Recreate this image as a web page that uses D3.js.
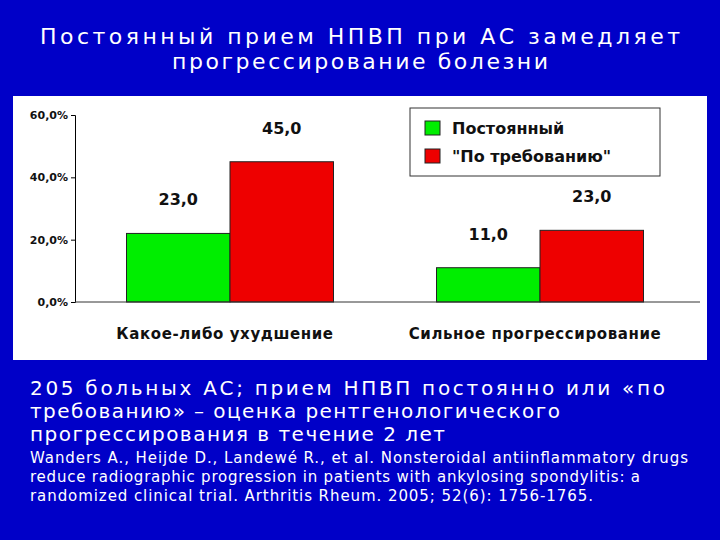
<!DOCTYPE html>
<html><head><meta charset="utf-8">
<script src="https://cdn.jsdelivr.net/npm/d3@7"></script>
<style>body{margin:0;background:#0000c8}svg{display:block}text{font-family:"DejaVu Sans",sans-serif}</style>
</head><body><div id="chart"></div>
<script>
const categories = ['Какое-либо ухудшение', 'Сильное прогрессирование']
const seriesNames = ['Постоянный', '"По требованию"']
const seriesColors = ['#00ee00', '#ee0000']
const constantVals = [22, 11]
const onDemandVals = [45, 23]
const constantLabels = ['23,0', '11,0']
const onDemandLabels = ['45,0', '23,0']
const yTicks = [0, 20, 40, 60]

const w = 720, h = 540
const svg = d3.select('#chart').append('svg').attr('width', w).attr('height', h)
svg.append('rect').attr('width', w).attr('height', h).attr('fill', '#0000c8')

const title = ['Постоянный прием НПВП при АС замедляет', 'прогрессирование болезни']
const titleLen = [640, 376]
title.forEach((t, i) => svg.append('text').text(t).attr('x', 360).attr('y', 44 + i * 25)
  .attr('text-anchor', 'middle').attr('fill', 'white').attr('font-size', 22)
  .attr('textLength', titleLen[i]).attr('lengthAdjust', 'spacing'))

svg.append('rect').attr('x', 13).attr('y', 96).attr('width', 694).attr('height', 264).attr('fill', 'white')

const x0 = d3.scaleBand().domain(categories).range([75, 695]).paddingInner(0).paddingOuter(0)
const x1 = d3.scaleBand().domain([0, 1]).range([0, 207])
const y = d3.scaleLinear().domain([0, 60]).range([302, 115])

const rows = []
categories.forEach((c, i) => {
  rows.push({c, s: 0, v: constantVals[i], l: constantLabels[i]})
  rows.push({c, s: 1, v: onDemandVals[i], l: onDemandLabels[i]})
})
const off = (x0.bandwidth() - 207) / 2

svg.selectAll('rect.bar').data(rows).enter().append('rect').attr('class', 'bar')
  .attr('x', d => x0(d.c) + off + x1(d.s)).attr('y', d => y(d.v))
  .attr('width', x1.bandwidth()).attr('height', d => y(0) - y(d.v))
  .attr('fill', d => seriesColors[d.s]).attr('stroke', '#222').attr('stroke-width', 1)
svg.selectAll('text.val').data(rows).enter().append('text')
  .attr('x', d => x0(d.c) + off + x1(d.s) + x1.bandwidth() / 2).attr('y', d => y(d.v) - 28)
  .attr('text-anchor', 'middle').attr('font-size', 16).attr('font-weight', 'bold').attr('fill', '#111').text(d => d.l)

const yAxis = d3.axisLeft(y).tickValues(yTicks).tickFormat(d => d.toFixed(1).replace('.', ',') + '%').tickSize(4)
svg.append('g').attr('transform', 'translate(75,0)').call(yAxis)
  .call(g => g.selectAll('text').attr('font-size', 11).attr('font-weight', 'bold').attr('fill', '#111'))
svg.append('line').attr('x1', 75).attr('x2', 700).attr('y1', y(0)).attr('y2', y(0)).attr('stroke', '#333')
svg.selectAll('text.cat').data(categories).enter().append('text')
  .attr('x', d => x0(d) + x0.bandwidth() / 2 - 5).attr('y', 339).attr('text-anchor', 'middle')
  .attr('font-size', 15).attr('font-weight', 'bold').attr('fill', '#111').attr('letter-spacing', 0.6).text(d => d)

const lg = svg.append('g')
lg.append('rect').attr('x', 410).attr('y', 108).attr('width', 250).attr('height', 68).attr('fill', 'white').attr('stroke', '#333')
seriesNames.forEach((n, i) => {
  lg.append('rect').attr('x', 425).attr('y', 121 + i * 28).attr('width', 15).attr('height', 14).attr('fill', seriesColors[i]).attr('stroke', '#222')
  lg.append('text').attr('x', 452).attr('y', 134 + i * 28).attr('font-size', 16).attr('font-weight', 'bold').attr('fill', '#111').text(n)
})

const body = ['205 больных АС; прием НПВП постоянно или «по', 'требованию» – оценка рентгенологического', 'прогрессирования в течение 2 лет']
const bodyLen = [635, 530, 415]
body.forEach((t, i) => svg.append('text').text(t).attr('x', 30).attr('y', 395 + i * 23).attr('fill', 'white').attr('font-size', 20)
  .attr('textLength', bodyLen[i]).attr('lengthAdjust', 'spacing'))
const cite = ['Wanders A., Heijde D., Landewé R., et al. Nonsteroidal antiinflammatory drugs', 'reduce radiographic progression in patients with ankylosing spondylitis: a', 'randomized clinical trial. Arthritis Rheum. 2005; 52(6): 1756-1765.']
const citeLen = [658, 610, 563]
cite.forEach((t, i) => svg.append('text').text(t).attr('x', 30).attr('y', 463 + i * 19).attr('fill', 'white').attr('font-size', 15)
  .attr('textLength', citeLen[i]).attr('lengthAdjust', 'spacing'))
</script></body></html>
